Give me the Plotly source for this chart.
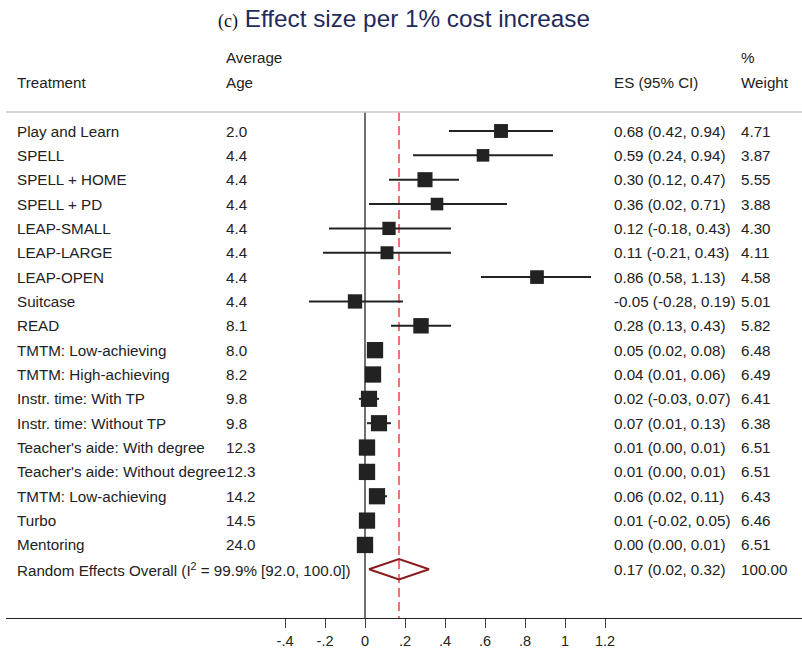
import plotly.graph_objects as go

# Study rows
treatments = [
    "Play and Learn", "SPELL", "SPELL + HOME", "SPELL + PD", "LEAP-SMALL",
    "LEAP-LARGE", "LEAP-OPEN", "Suitcase", "READ", "TMTM: Low-achieving",
    "TMTM: High-achieving", "Instr. time: With TP", "Instr. time: Without TP",
    "Teacher's aide: With degree", "Teacher's aide: Without degree",
    "TMTM: Low-achieving", "Turbo", "Mentoring",
]
avg_age = ["2.0", "4.4", "4.4", "4.4", "4.4", "4.4", "4.4", "4.4", "8.1",
           "8.0", "8.2", "9.8", "9.8", "12.3", "12.3", "14.2", "14.5", "24.0"]
es = [0.68, 0.59, 0.30, 0.36, 0.12, 0.11, 0.86, -0.05, 0.28,
      0.05, 0.04, 0.02, 0.07, 0.01, 0.01, 0.06, 0.01, 0.00]
ci_low = [0.42, 0.24, 0.12, 0.02, -0.18, -0.21, 0.58, -0.28, 0.13,
          0.02, 0.01, -0.03, 0.01, 0.00, 0.00, 0.02, -0.02, 0.00]
ci_high = [0.94, 0.94, 0.47, 0.71, 0.43, 0.43, 1.13, 0.19, 0.43,
           0.08, 0.06, 0.07, 0.13, 0.01, 0.01, 0.11, 0.05, 0.01]
weight = [4.71, 3.87, 5.55, 3.88, 4.30, 4.11, 4.58, 5.01, 5.82,
          6.48, 6.49, 6.41, 6.38, 6.51, 6.51, 6.43, 6.46, 6.51]

# Pooled estimate
overall_label = "Random Effects Overall (I<sup>2</sup> = 99.9% [92.0, 100.0])"
overall_es, overall_low, overall_high, overall_weight = 0.17, 0.02, 0.32, 100.00

tick_vals = [-0.4, -0.2, 0, 0.2, 0.4, 0.6, 0.8, 1.0, 1.2]
tick_text = ["-.4", "-.2", "0", ".2", ".4", ".6", ".8", "1", "1.2"]

FONT = "Liberation Sans, Arial, Helvetica, sans-serif"
INK = "#222222"
TXT = 15.2
n = len(treatments)
rows = list(range(n))
overall_row = n

# Column positions in data units of the x axis
X_TREAT, X_AGE, X_ES, X_WT = -1.75, -0.705, 1.235, 1.872
Y_TOPLINE, Y_AXIS = -0.78, 20.0

fig = go.Figure()

# Confidence-interval whiskers
cx, cy = [], []
for r, lo, hi in zip(rows, ci_low, ci_high):
    cx += [lo, hi, None]
    cy += [r, r, None]
fig.add_trace(go.Scatter(x=cx, y=cy, mode="lines",
                         line=dict(color=INK, width=2), hoverinfo="skip"))

# Weighted boxes: area proportional to study weight
sizes = [6.4 * w ** 0.5 for w in weight]
fig.add_trace(go.Scatter(x=es, y=rows, mode="markers",
                         marker=dict(symbol="square", size=sizes, color=INK,
                                     opacity=1, line=dict(width=0))))

# Pooled diamond
h = 0.42
fig.add_trace(go.Scatter(
    x=[overall_low, overall_es, overall_high, overall_es, overall_low],
    y=[overall_row, overall_row - h, overall_row, overall_row + h, overall_row],
    mode="lines", line=dict(color="#8b1a1a", width=2), fill="toself",
    fillcolor="rgba(255,255,255,0)", hoverinfo="skip"))

# Reference lines
fig.add_shape(type="line", x0=0, x1=0, y0=Y_TOPLINE, y1=Y_AXIS,
              line=dict(color=INK, width=1.3), layer="below")
fig.add_shape(type="line", x0=overall_es, x1=overall_es, y0=Y_TOPLINE, y1=Y_AXIS,
              line=dict(color="#f07272", width=2, dash="9px,5px"), layer="below")
fig.add_shape(type="line", xref="paper", x0=0, x1=1, y0=Y_TOPLINE, y1=Y_TOPLINE,
              line=dict(color="#c8c8c8", width=1.3))

def label(x, y, text, anchor="left"):
    fig.add_annotation(x=x, y=y, text=text, showarrow=False, xanchor=anchor,
                       yanchor="middle", font=dict(family=FONT, size=TXT, color=INK))

# Header
label(X_AGE, -3.0, "Average")
label(X_TREAT, -2.0, "Treatment")
label(X_AGE, -2.0, "Age")
label(X_ES, -2.0, "ES (95% CI)")
label(X_WT, -3.0, "%")
label(X_WT, -2.0, "Weight")

# Row text
for r in rows:
    label(X_TREAT, r, treatments[r])
    label(X_AGE, r, avg_age[r])
    label(X_ES, r, f"{es[r]:.2f} ({ci_low[r]:.2f}, {ci_high[r]:.2f})")
    label(X_WT, r, f"{weight[r]:.2f}")
label(X_TREAT, overall_row, overall_label)
label(X_ES, overall_row, f"{overall_es:.2f} ({overall_low:.2f}, {overall_high:.2f})")
label(X_WT, overall_row, f"{overall_weight:.2f}")

# Title
fig.add_annotation(
    xref="paper", yref="paper", x=0.5, y=1, yshift=-3, xanchor="center", yanchor="top",
    showarrow=False,
    text=("<span style='font-family:Liberation Serif, Times New Roman, serif;"
          "font-size:18px;color:#111'>(c)</span> Effect size per 1% cost increase"),
    font=dict(family=FONT, size=24.3, color="#1f2b5c"))

fig.update_layout(
    width=802, height=651,
    margin=dict(l=6, r=0, t=0, b=33),
    plot_bgcolor="white", paper_bgcolor="white",
    showlegend=False,
    xaxis=dict(range=[-1.795, 2.185], showgrid=False, zeroline=False,
               showline=True, linecolor=INK, linewidth=1.3,
               ticks="outside", ticklen=9, tickwidth=1.3, tickcolor="#444",
               tickvals=tick_vals, ticktext=tick_text,
               tickfont=dict(family=FONT, size=14.5, color=INK)),
    yaxis=dict(range=[Y_AXIS, -5.38], showgrid=False, zeroline=False,
               showticklabels=False, showline=False),
)

fig.write_html("out.html")
